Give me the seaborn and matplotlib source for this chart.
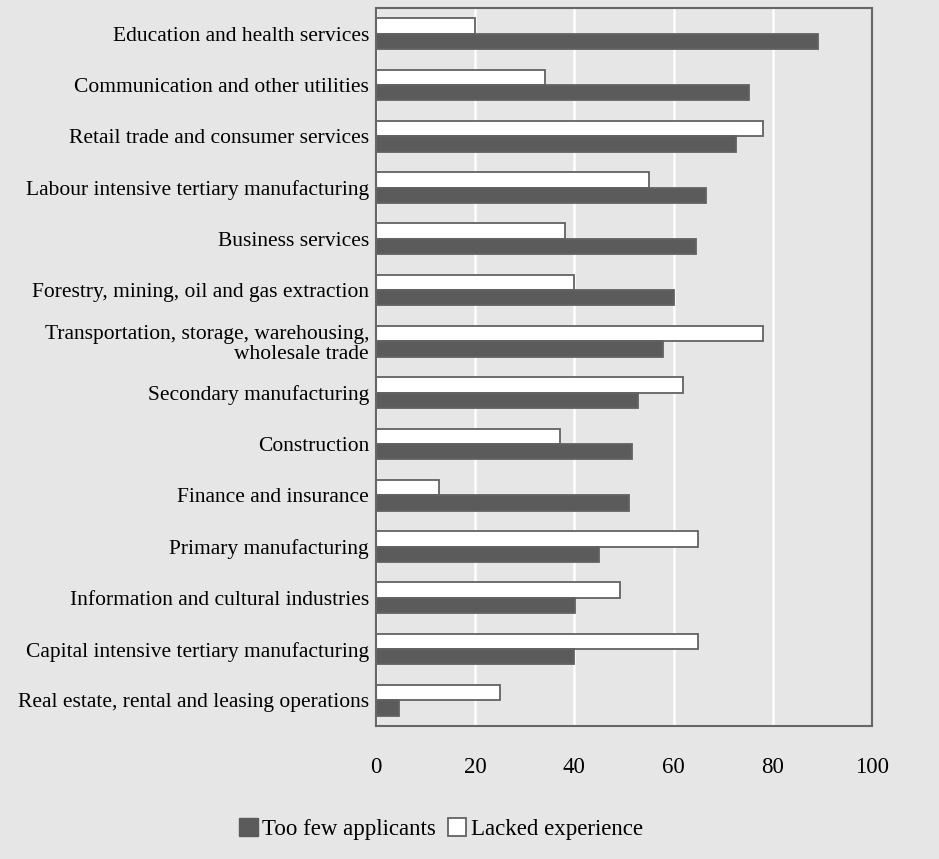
import matplotlib
matplotlib.use("Agg")
import matplotlib.pyplot as plt
import seaborn as sns
import pandas as pd
from matplotlib.patches import Patch

categories = [
    "Education and health services",
    "Communication and other utilities",
    "Retail trade and consumer services",
    "Labour intensive tertiary manufacturing",
    "Business services",
    "Forestry, mining, oil and gas extraction",
    "Transportation, storage, warehousing,\nwholesale trade",
    "Secondary manufacturing",
    "Construction",
    "Finance and insurance",
    "Primary manufacturing",
    "Information and cultural industries",
    "Capital intensive tertiary manufacturing",
    "Real estate, rental and leasing operations",
]
too_few_applicants = [89.2, 75.2, 72.6, 66.5, 64.5, 60.1, 57.8, 52.9, 51.7, 51.0, 45.0, 40.1, 40.0, 4.6]
lacked_experience = [20.0, 34.0, 78.1, 55.0, 38.1, 40.0, 78.1, 61.8, 37.0, 12.8, 65.0, 49.1, 65.0, 25.0]
series_names = ["Too few applicants", "Lacked experience"]
x_ticks = [0, 20, 40, 60, 80, 100]

df = pd.concat([
    pd.DataFrame({"category": categories, "value": too_few_applicants, "series": series_names[0]}),
    pd.DataFrame({"category": categories, "value": lacked_experience, "series": series_names[1]}),
])

sns.set_theme(style="white")
plt.rcParams["font.family"] = ["Liberation Serif", "DejaVu Serif"]
plt.rcParams["text.color"] = "black"
plt.rcParams["xtick.color"] = "black"
plt.rcParams["ytick.color"] = "black"

BG = "#e6e6e6"
DARK = "#5b5b5b"
EDGE = "#626262"

fig = plt.figure(figsize=(9.39, 8.59), dpi=100, facecolor=BG)
ax = fig.add_axes([376 / 939, 1 - 726 / 859, (872 - 376) / 939, (726 - 8) / 859])
ax.set_facecolor(BG)

palette = {series_names[0]: DARK, series_names[1]: "white"}
sns.barplot(data=df, y="category", x="value", hue="series", order=categories,
            hue_order=[series_names[1], series_names[0]], palette=palette,
            orient="h", width=0.6, gap=0, edgecolor=EDGE, linewidth=1.3,
            saturation=1, legend=False, ax=ax, zorder=3)

ax.set_xlim(0, 100)
ax.set_xticks(x_ticks)
ax.set_xticklabels([str(t) for t in x_ticks], fontsize=16.5)
ax.tick_params(axis="x", length=0, pad=22, labelcolor="black")
ax.tick_params(axis="y", length=0, pad=5, labelsize=15.5, labelcolor="black")
for lab in ax.get_yticklabels():
    lab.set_horizontalalignment("right")
    lab.set_multialignment("right")
    lab.set_linespacing(1.05)
ax.set_xlabel("")
ax.set_ylabel("")
ax.grid(axis="x", color="white", linewidth=1.8, zorder=0)
ax.set_axisbelow(True)
for s in ax.spines.values():
    s.set_visible(True)
    s.set_color("#666666")
    s.set_linewidth(1.5)
    s.set_zorder(5)

handles = [Patch(facecolor=DARK, edgecolor=DARK, label=series_names[0]),
           Patch(facecolor="white", edgecolor=EDGE, linewidth=1.3, label=series_names[1])]
fig.legend(handles=handles, loc="center", bbox_to_anchor=(441 / 939, 1 - 829 / 859),
           ncol=2, frameon=False, fontsize=16.5, handlelength=0.8, handleheight=0.8,
           handletextpad=0.2, columnspacing=0.5, labelcolor="black")

fig.savefig("out.png", dpi=100, facecolor=BG)
